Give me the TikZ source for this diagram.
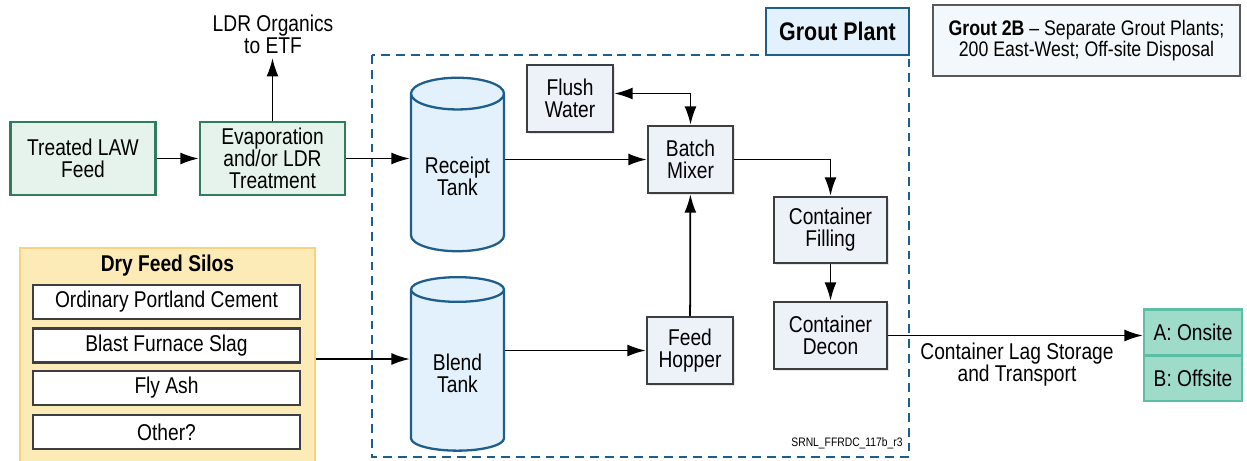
\documentclass[tikz,border=0pt]{standalone}
\usepackage{fontspec}
\setmainfont{Liberation Sans}[FakeStretch=0.84]
\usetikzlibrary{arrows.meta,shapes.geometric,shadows}

\definecolor{lawgreen}{RGB}{47,125,92}
\definecolor{lawfill}{RGB}{229,243,236}
\definecolor{plantblue}{RGB}{30,94,140}
\definecolor{tankfill}{RGB}{226,241,251}
\definecolor{boxfill}{RGB}{237,242,248}
\definecolor{boxline}{RGB}{60,62,66}
\definecolor{silofill}{RGB}{253,235,183}
\definecolor{siloline}{RGB}{245,212,125}
\definecolor{sitefill}{RGB}{158,219,201}
\definecolor{siteline}{RGB}{92,190,164}
\definecolor{notefill}{RGB}{243,248,252}

\begin{document}
\begin{tikzpicture}[
	txt/.style={font=\fontsize{13}{12.5}\selectfont, align=center, inner sep=2pt},
	feedbox/.style={txt, draw=lawgreen, fill=lawfill, line width=1.4pt, minimum width=2.9cm, minimum height=1.46cm},
	procbox/.style={txt, draw=boxline, fill=boxfill, line width=1.4pt, minimum height=1.34cm, drop shadow={opacity=0.2, shadow xshift=1pt, shadow yshift=-1pt}},
	tank/.style={txt, cylinder, shape border rotate=90, aspect=0.44, draw=plantblue, fill=tankfill, line width=1.3pt, minimum width=1.86cm, minimum height=3.47cm},
	silobox/.style={txt, draw=boxline, fill=white, line width=1.4pt, minimum width=5.34cm, minimum height=0.68cm},
	sitebox/.style={txt, draw=siteline, fill=sitefill, line width=1.3pt, minimum width=1.96cm, minimum height=0.92cm},
	flow/.style={line width=1pt, -{Latex[length=10.5pt,width=6.8pt]}}
]
	\useasboundingbox (0, 0) rectangle (24.94, -9.2);
	\clip (0, 0) rectangle (24.94, -9.2);
	% feed side
	\node[feedbox] (law) at (1.66, -3.17) {Treated LAW\\Feed};
	\node[feedbox] (evap) at (5.45, -3.17) {Evaporation\\and/or LDR\\Treatment};
	\node[txt, anchor=south] (ldr) at (5.46, -1.16) {LDR Organics\\to ETF};
	% grout plant frame
	\draw[plantblue, line width=1.4pt, dash pattern=on 5pt off 3.4pt] (7.44, -1.10) rectangle (18.18, -9.14);
	\node[txt, font=\fontsize{14.5}{14}\selectfont\bfseries, draw=plantblue, fill=tankfill, line width=1.4pt, minimum width=2.86cm, minimum height=0.94cm] (plantlabel) at (16.75, -0.63) {Grout Plant};
	\node[font=\fontsize{7}{8}\selectfont] (docid) at (16.94, -8.86) {SRNL\_FFRDC\_117b\_r3};
	% note
	\node[txt, font=\fontsize{12}{10.5}\selectfont, draw=black!65, fill=notefill, line width=0.8pt, minimum width=6.14cm, minimum height=1.42cm] (note) at (21.73, -0.81) {\textbf{Grout 2B} – Separate Grout Plants;\\200 East-West; Off-site Disposal};
	% tanks
	\node[tank] (receipt) at (9.15, -3.52) {Receipt\\Tank};
	\node[tank] (blend) at (9.15, -7.46) {Blend\\Tank};
	% process boxes
	\node[procbox, minimum width=1.72cm] (flush) at (11.40, -1.97) {Flush\\Water};
	\node[procbox, minimum width=1.70cm] (batch) at (13.81, -3.19) {Batch\\Mixer};
	\node[procbox, minimum width=1.72cm] (hopper) at (13.80, -7.01) {Feed\\Hopper};
	\node[procbox, minimum width=2.26cm, minimum height=1.32cm] (filling) at (16.61, -4.60) {Container\\Filling};
	\node[procbox, minimum width=2.26cm] (decon) at (16.61, -6.71) {Container\\Decon};
	% dry feed silos
	\node[draw=siloline, fill=silofill, line width=1.6pt, minimum width=5.9cm, minimum height=4.44cm] (silos) at (3.35, -7.18) {};
	\node[txt, font=\fontsize{13}{12.5}\selectfont\bfseries] (silotitle) at (3.35, -5.32) {Dry Feed Silos};
	\foreach \mat/\y/\nm in {Ordinary Portland Cement/-6.04/opc, Blast Furnace Slag/-6.91/bfs, Fly Ash/-7.76/ash, Other?/-8.64/other}
		\node[silobox] (\nm) at (3.33, \y) {\mat};
	% disposal
	\node[sitebox] (onsite) at (23.86, -6.65) {A: Onsite};
	\node[sitebox, minimum height=0.90cm] (offsite) at (23.86, -7.57) {B: Offsite};
	\node[txt] (lag) at (20.34, -7.30) {Container Lag Storage\\and Transport};
	% flows
	\draw[flow] (law) -- (evap);
	\draw[flow] (evap.north) -- (evap.north |- ldr.south);
	\draw[flow] (evap.east) -- (evap.east -| receipt.west);
	\draw[flow] (receipt.east |- batch.west) -- (batch.west);
	\draw[line width=1pt, {Latex[length=10.5pt,width=6.8pt]}-{Latex[length=10.5pt,width=6.8pt]}] ([yshift=1mm]flush.east) -| (batch.north);
	\draw[flow] (batch.east) -| (filling.north);
	\draw[flow] (filling) -- (decon);
	\draw[flow] (hopper) -- (batch);
	\draw[flow] (blend.east |- hopper.west) -- (hopper.west);
	\draw[flow] (silos.east) -- (silos.east -| blend.west);
	\draw[flow] (decon.east) -- (decon.east -| onsite.west);
\end{tikzpicture}
\end{document}
